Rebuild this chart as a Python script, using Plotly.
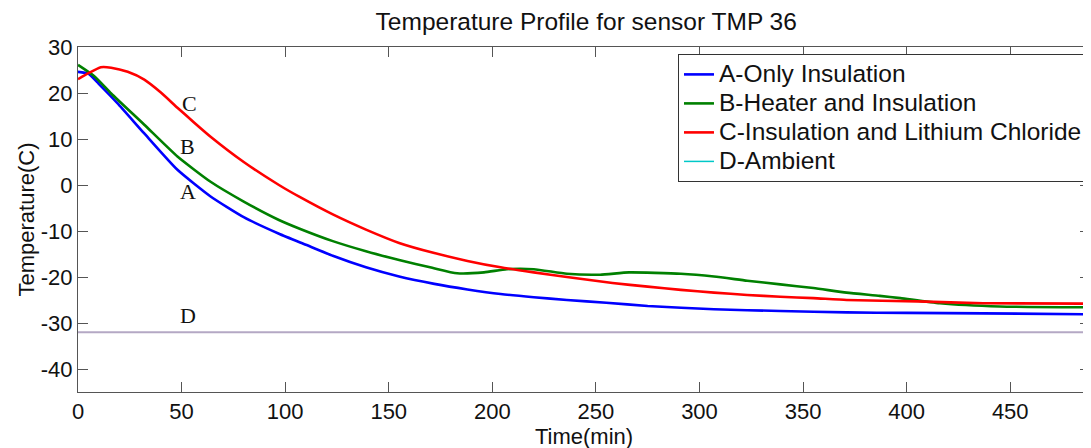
import plotly.graph_objects as go

# ---- data ----
a_time = [0, 5, 10, 19, 32, 48, 64, 80, 97, 110, 123, 139, 155, 172, 188, 204, 220, 236, 255, 275, 307, 339, 371, 400, 437, 488]
a_temp = [24.6, 24.2, 22.0, 17.8, 11.2, 3.3, -2.5, -7.0, -10.6, -13.0, -15.4, -17.9, -19.9, -21.5, -22.7, -23.7, -24.4, -25.0, -25.6, -26.3, -27.0, -27.4, -27.7, -27.8, -27.9, -28.1]

b_time = [0, 8, 16, 32, 48, 64, 80, 97, 107, 123, 139, 155, 171, 183, 196, 207, 220, 236, 252, 266, 291, 307, 323, 339, 355, 371, 387, 397, 416, 445, 488]
b_temp = [26.1, 23.6, 19.9, 13.1, 6.2, 0.7, -3.6, -7.6, -9.5, -12.2, -14.4, -16.3, -18.0, -19.2, -19.0, -18.3, -18.3, -19.3, -19.5, -19.0, -19.3, -19.9, -20.8, -21.6, -22.4, -23.4, -24.1, -24.6, -25.7, -26.4, -26.6]

c_time = [0, 5, 11, 16, 24, 32, 40, 48, 56, 64, 80, 97, 107, 123, 139, 155, 172, 188, 204, 220, 236, 258, 275, 291, 307, 323, 339, 355, 371, 405, 437, 488]
c_temp = [23.0, 24.3, 25.6, 25.5, 24.6, 22.9, 20.1, 16.8, 13.6, 10.5, 5.0, 0.0, -2.6, -6.4, -9.7, -12.6, -14.8, -16.5, -17.9, -19.0, -20.0, -21.3, -22.1, -22.8, -23.4, -23.9, -24.3, -24.6, -25.0, -25.3, -25.7, -25.8]

d_time = [0, 488]
d_temp = [-32.0, -32.0]

series_names = ["A-Only Insulation", "B-Heater and Insulation",
                "C-Insulation and Lithium Chloride", "D-Ambient"]
label_text = ["A", "B", "C", "D"]
label_x = [53, 53, 54, 53]
label_y = [-1.5, 8.3, 17.7, -28.3]

x_ticks = [0, 50, 100, 150, 200, 250, 300, 350, 400, 450]
x_ticktext = ["0", "50", "100", "150", "200", "250", "300", "350", "400", "450"]
y_ticks = [-40, -30, -20, -10, 0, 10, 20, 30]
y_ticktext = ["-40", "-30", "-20", "-10", "0", "10", "20", "30"]

FONT = "Liberation Sans, Arial, sans-serif"


def leg(name):
    return '<span style="font-size:24.5px">' + name + '</span>'


fig = go.Figure()
fig.add_trace(go.Scatter(x=a_time, y=a_temp, mode="lines", name=leg(series_names[0]),
                         line=dict(color="#0000ff", width=2.6, shape="spline", smoothing=0.5)))
fig.add_trace(go.Scatter(x=b_time, y=b_temp, mode="lines", name=leg(series_names[1]),
                         line=dict(color="#008000", width=2.6, shape="spline", smoothing=0.5)))
fig.add_trace(go.Scatter(x=c_time, y=c_temp, mode="lines", name=leg(series_names[2]),
                         line=dict(color="#ff0000", width=2.6, shape="spline", smoothing=0.5)))
# visible ambient line (mottled grey-lavender in reference)
fig.add_trace(go.Scatter(x=d_time, y=d_temp, mode="lines", name=series_names[3],
                         showlegend=False,
                         line=dict(color="#b4a8c4", width=2)))
# legend entry for ambient (cyan)
fig.add_trace(go.Scatter(x=[None], y=[None], mode="lines", name=leg(series_names[3]),
                         line=dict(color="#00c8c8", width=1.5)))

for t, lx, ly in zip(label_text, label_x, label_y):
    fig.add_annotation(x=lx, y=ly, text=t, showarrow=False,
                       font=dict(family="Liberation Serif, Times New Roman, serif", size=22, color="#111"))

axis_common = dict(showline=True, linecolor="#555", linewidth=1, mirror="ticks",
                   ticks="inside", ticklen=10, tickcolor="#555", tickwidth=1,
                   showgrid=False, zeroline=False, automargin=False,
                   tickfont=dict(family=FONT, size=22, color="#111"))

fig.update_layout(
    width=1091, height=448,
    margin=dict(l=70, r=9, t=39, b=64),
    paper_bgcolor="white", plot_bgcolor="white",
    title=dict(text="Temperature Profile for sensor TMP 36", x=0.530, xanchor="center",
               y=0.969, yanchor="middle", yref="container",
               font=dict(family=FONT, size=24.5, color="#111")),
    xaxis=dict(range=[0, 488.5], tickvals=x_ticks, ticktext=x_ticktext,
               title=dict(text="Time(min)", font=dict(family=FONT, size=22, color="#111"), standoff=0),
               **axis_common),
    yaxis=dict(range=[-45, 30], tickvals=y_ticks, ticktext=y_ticktext,
               title=dict(text="Temperature(C)", font=dict(family=FONT, size=22, color="#111"), standoff=0),
               **axis_common),
    legend=dict(x=0.998, xanchor="right", y=0.98, yanchor="top",
                bgcolor="white", bordercolor="#333", borderwidth=1,
                font=dict(family=FONT, size=20, color="#111"),
                tracegroupgap=0, itemwidth=30),
    showlegend=True,
)

fig.write_html("out.html")
